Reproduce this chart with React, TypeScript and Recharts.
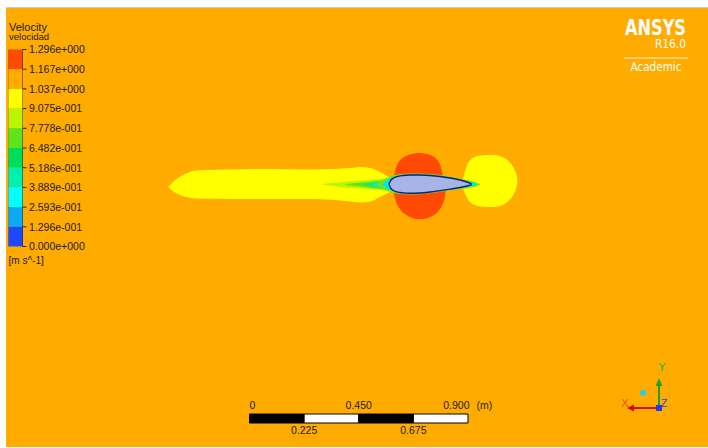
import React from 'react';
import { ComposedChart, Area, XAxis, YAxis, ReferenceArea, Customized } from 'recharts';

// ---- legend (contour levels) ----
const legendLabels = ['1.296e+000', '1.167e+000', '1.037e+000', '9.075e-001', '7.778e-001', '6.482e-001', '5.186e-001', '3.889e-001', '2.593e-001', '1.296e-001', '0.000e+000'];
const legendColors = ['#FF4A05', '#FFAB00', '#FFFF00', '#BDF500', '#5EE41C', '#00DD5C', '#00F0B2', '#00FFFF', '#0DA9F2', '#1E48FF'];

// ---- scale bar (metres) ----
const scaleSegments = [0, 0.225, 0.45, 0.675, 0.9];
const scaleTopLabels = ['0', '0.450', '0.900'];
const scaleBottomLabels = ['0.225', '0.675'];

// ---- flow regions: [x, upper y, lower y] in view units ----
const wakeYellow: [number, number, number][] = [
  [168, 187, 187], [172, 183, 190.5], [178, 178, 194], [186, 173.5, 197], [196, 170.5, 198.5], [230, 169.5, 199], [270, 169, 199],
  [310, 169.5, 199], [335, 169, 200], [350, 168, 201.5], [362, 167, 202.5], [372, 168.5, 201], [380, 172, 197], [387, 176, 193.5], [394, 179, 190],
];
const wakeLime: [number, number, number][] = [[322, 184, 184.5], [340, 182.2, 186.9], [360, 180.6, 188.6], [380, 179, 190], [393, 178.3, 190.7]];
const wakeGreen: [number, number, number][] = [[345, 184.3, 184.7], [362, 182.6, 186.8], [378, 180.8, 188.8], [393, 179.6, 190]];
const wakeTeal: [number, number, number][] = [[364, 184.3, 184.7], [377, 182.6, 186.8], [393, 180.6, 189]];
const wakeCyan: [number, number, number][] = [[373, 184.3, 184.7], [383, 182.3, 187.2], [393, 181, 188.5]];
const wakeBlue: [number, number, number][] = [[382, 184.3, 184.7], [388, 182.6, 186.6], [393, 181.5, 188]];
const redUpper: [number, number, number][] = [
  [394, 176, 180], [395.5, 169, 180], [398, 163, 180], [402, 158.5, 180], [407, 155.5, 180], [412, 154, 180], [418, 153, 180], [424, 153.4, 180],
  [429, 154.5, 180], [433, 156.3, 180], [436.5, 159, 180], [439.5, 163.5, 180], [441.5, 169, 180], [443, 178, 180],
];
const redLower: [number, number, number][] = [
  [393, 188, 190], [395, 188, 199], [397.5, 188, 205], [401, 188, 210.5], [406, 188, 214.8], [411, 188, 217.5], [417, 188, 219], [423, 188, 219],
  [429, 188, 217.6], [434, 188, 215], [438.5, 188, 211], [442, 188, 205.5], [444.5, 188, 198.5], [446, 188, 189],
];
const rightYellow: [number, number, number][] = [
  [463, 179, 188], [466, 168, 196], [467.5, 164, 199], [469.5, 161, 201.5], [472, 158.5, 203.5], [476, 156.5, 205.5], [481, 155.5, 206.5], [486, 155, 207],
  [491, 155, 207], [496, 155.3, 206.7], [501, 156.5, 205.5], [506, 159, 203], [510, 162.5, 199.5], [513, 166.5, 195.5], [515, 170.5, 191.5], [516.5, 175, 187], [517.5, 180.5, 181.5],
];
const haloGreen: [number, number, number][] = [
  [377, 184.3, 184.7], [381, 181, 188], [387, 178, 190.8], [393, 175.6, 192.8], [400, 174.2, 194], [410, 173.6, 194.5], [420, 173.6, 194.2], [430, 174.1, 193.2], [440, 175.1, 191.8],
  [450, 176.6, 190.4], [460, 178.5, 189], [468, 180.2, 188], [475, 182, 186.8], [480, 184.2, 184.8],
];
const haloCyan: [number, number, number][] = [
  [382, 184.3, 184.7], [385, 181.8, 187.3], [389, 179, 189.6], [394, 176.7, 191.6], [400, 175, 193.3], [410, 174.3, 193.9], [420, 174.3, 193.7], [430, 174.8, 192.7],
  [440, 175.8, 191.3], [450, 177.3, 189.8], [460, 179.3, 188.3], [468, 181.2, 186.9], [474, 182.8, 185.8], [477, 184.3, 184.7],
];
const airfoil: [number, number, number][] = [
  [389, 184.2, 184.6], [390.5, 180.8, 187.8], [393, 178.3, 190.3], [397, 176.6, 191.9], [403, 175.5, 192.9], [410, 175, 193.3], [420, 175, 193],
  [430, 175.5, 192], [440, 176.5, 190.6], [450, 178, 189.1], [460, 180, 187.5], [467, 182, 186], [472, 184.2, 184.6],
];

const toRows = (pts: [number, number, number][]) => pts.map(([x, a, b]) => ({ x, r: [a, b] }));

const FONT = '"Liberation Sans", Arial, sans-serif';
const INK = '#1c1c1c';

// layout constants (view units == pixels)
const LEG_X0 = 8.5;
const LEG_X1 = 22.5;
const LEG_TOP = 49.5;
const LEG_BOTTOM = 246.5;
const LEG_STEP = (LEG_BOTTOM - LEG_TOP) / legendColors.length;
const SB_X0 = 249.5;
const SB_X1 = 468;
const SB_Y0 = 414;
const SB_Y1 = 423;
const mToX = (m: number) => SB_X0 + (m / scaleSegments[scaleSegments.length - 1]) * (SB_X1 - SB_X0);

const Overlay = () => (
  <g fontFamily={FONT}>
    {/* legend title */}
    <text x={9} y={30.5} fontSize={11} fill={INK}>Velocity</text>
    <text x={9} y={40} fontSize={9.5} fill={INK}>velocidad</text>
    <text x={8.5} y={264} fontSize={10} fill={INK}>[m s^-1]</text>
    {/* legend axis line + ticks */}
    <line x1={LEG_X1} x2={LEG_X1} y1={LEG_TOP} y2={LEG_BOTTOM} stroke="#222" strokeWidth={1} />
    <line x1={LEG_X0} x2={LEG_X0} y1={LEG_TOP} y2={LEG_BOTTOM} stroke="#555" strokeWidth={0.6} />
    {legendLabels.map((l, i) => (
      <g key={l}>
        <line x1={LEG_X1} x2={LEG_X1 + 4} y1={LEG_TOP + i * LEG_STEP} y2={LEG_TOP + i * LEG_STEP} stroke="#222" strokeWidth={1} />
        <text x={29} y={LEG_TOP + i * LEG_STEP + 3.8} fontSize={10.5} fill={INK}>{l}</text>
      </g>
    ))}
    {/* ANSYS logo */}
    <text x={686} y={35} fontSize={22} fontWeight={600} fill="#fff" textAnchor="end" textLength={61} lengthAdjust="spacingAndGlyphs" fontFamily='"DejaVu Sans", sans-serif'>ANSYS</text>
    <text x={686} y={48} fontSize={12} fill="#fff" textAnchor="end" textLength={31} lengthAdjust="spacingAndGlyphs" fontFamily='"DejaVu Sans", sans-serif'>R16.0</text>
    <line x1={624} x2={688} y1={58} y2={58} stroke="#fff" strokeOpacity={0.85} strokeWidth={1} />
    <text x={656} y={71} fontSize={12.5} fill="#fff" textAnchor="middle" textLength={51} lengthAdjust="spacingAndGlyphs" fontFamily='"DejaVu Sans", sans-serif'>Academic</text>
    {/* scale bar labels */}
    <text x={mToX(scaleSegments[0])} y={408.5} fontSize={10.5} fill={INK}>{scaleTopLabels[0]}</text>
    <text x={mToX(scaleSegments[2])} y={408.5} fontSize={10.5} fill={INK} textAnchor="middle">{scaleTopLabels[1]}</text>
    <text x={mToX(scaleSegments[4]) + 1.5} y={408.5} fontSize={10.5} fill={INK} textAnchor="end">{scaleTopLabels[2]}</text>
    <text x={476.5} y={408.5} fontSize={10.5} fill={INK}>(m)</text>
    <text x={mToX(scaleSegments[1])} y={433.5} fontSize={10.5} fill={INK} textAnchor="middle">{scaleBottomLabels[0]}</text>
    <text x={mToX(scaleSegments[3])} y={433.5} fontSize={10.5} fill={INK} textAnchor="middle">{scaleBottomLabels[1]}</text>
    {/* axis triad */}
    <line x1={659} x2={633} y1={408} y2={408} stroke="#D01010" strokeWidth={2} />
    <polygon points="627,408 634,404.5 634,411.5" fill="#D01010" />
    <line x1={659} x2={659} y1={408} y2={385} stroke="#22A022" strokeWidth={2} />
    <polygon points="659,378 655.5,386 662.5,386" fill="#22A022" />
    <rect x={656} y={405} width={6} height={6} fill="#1E3CE0" />
    <circle cx={643} cy={393} r={3} fill="#22D0E8" />
    <text x={662} y={371} fontSize={11} fill="#30B030" textAnchor="middle">Y</text>
    <text x={625} y={407} fontSize={11} fill="#E85020" textAnchor="middle">X</text>
    <text x={664} y={407} fontSize={11} fill="#2848E0" textAnchor="middle">Z</text>
  </g>
);

const region = (key: string, pts: [number, number, number][], fill: string, stroke = 'none', sw = 0) => (
  <Area
    key={key}
    data={toRows(pts)}
    dataKey="r"
    type="monotone"
    fill={fill}
    fillOpacity={1}
    stroke={stroke}
    strokeWidth={sw}
    dot={false}
    activeDot={false}
    isAnimationActive={false}
  />
);

export default function App() {
  return (
    <div style={{ position: 'absolute', left: 0, top: 0, width: 708, height: 448, background: '#fff', overflow: 'hidden' }}>
      <div style={{ position: 'absolute', left: 6, top: 7, width: 702, height: 440, background: '#FFAB00', borderTop: '1px solid #c9c9c9', boxSizing: 'border-box' }} />
      <div style={{ position: 'absolute', left: 0, top: 0 }}>
        <ComposedChart width={708} height={448} margin={{ top: 0, right: 0, bottom: 0, left: 0 }}>
          <XAxis dataKey="x" type="number" domain={[0, 708]} hide allowDataOverflow />
          <YAxis type="number" domain={[0, 448]} reversed hide allowDataOverflow />
          {region('wake', wakeYellow, '#FFFF00')}
          {region('lime', wakeLime, '#BDF500')}
          {region('green', wakeGreen, '#5EE41C')}
          {region('teal', wakeTeal, '#00EE9A')}
          {region('cyan', wakeCyan, '#00F4F4')}
          {region('blue', wakeBlue, '#1E8CFF')}
          {region('redU', redUpper, '#FF4A05')}
          {region('redL', redLower, '#FF4A05')}
          {region('rightY', rightYellow, '#FFFF00')}
          {region('haloG', haloGreen, '#6FE61E')}
          {region('haloC', haloCyan, '#00E8E8')}
          {region('foil', airfoil, '#A8B3E6', '#14206E', 1.4)}
          {legendColors.map((c, i) => (
            <ReferenceArea key={c} x1={LEG_X0} x2={LEG_X1} y1={LEG_TOP + i * LEG_STEP} y2={LEG_TOP + (i + 1) * LEG_STEP} fill={c} fillOpacity={1} stroke="none" ifOverflow="visible" />
          ))}
          {scaleSegments.slice(0, -1).map((m, i) => (
            <ReferenceArea key={m} x1={mToX(m)} x2={mToX(scaleSegments[i + 1])} y1={SB_Y0} y2={SB_Y1} fill={i % 2 === 0 ? '#000' : '#fff'} fillOpacity={1} stroke="#000" strokeWidth={1} ifOverflow="visible" />
          ))}
          <Customized component={Overlay} />
        </ComposedChart>
      </div>
    </div>
  );
}
